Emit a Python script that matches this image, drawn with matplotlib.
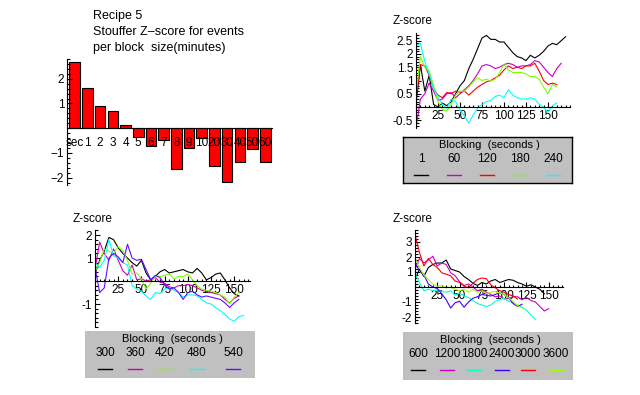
import matplotlib.pyplot as plt
from matplotlib.ticker import FixedLocator, MultipleLocator

plt.rcParams['font.family'] = ['Liberation Sans', 'DejaVu Sans']
plt.rcParams['font.size'] = 8.5

# bar chart: Stouffer Z per block size
block_labels = ['sec', '1', '2', '3', '4', '5', '6', '7', '8', '9', '10',
                '20', '30', '40', '50', '60']
block_z = [2.68, 1.62, 0.88, 0.68, 0.12, -0.36, -0.72, -0.47, -1.66, -0.82,
           -0.39, -1.53, -2.19, -1.38, -0.85, -1.38]

# cumulative Z-score curves, sampled every 5 seconds of block index
step = 5

tr_labels = ['1', '60', '120', '180', '240']
tr_colors = ['black', '#c800c8', 'red', '#80ff00', 'cyan']
tr_z = [
    [0.1, 1.6, 0.6, 1.2, 0.1, 0.0, 0.15, 0.05, 0.2, 0.5, 0.8, 1.0, 1.45, 1.8,
     2.2, 2.6, 2.7, 2.55, 2.55, 2.45, 2.45, 2.25, 2.05, 1.9, 1.85, 1.75, 1.95,
     1.85, 1.95, 2.1, 2.3, 2.4, 2.35, 2.5, 2.65],
    [-0.8, 0.3, 0.5, 0.9, 0.6, 0.25, 0.3, 0.5, 0.55, 0.35, 0.5, 0.65, 0.8, 1.0,
     1.25, 1.55, 1.6, 1.55, 1.45, 1.5, 1.6, 1.65, 1.6, 1.5, 1.55, 1.55, 1.6,
     1.75, 1.7, 1.5, 1.3, 1.15, 1.45, 1.65],
    [0.3, 1.6, 1.55, 1.2, 0.7, 0.45, 0.35, 0.55, 0.5, 0.6, 0.55, 0.6, 0.45, 0.6,
     0.75, 0.85, 0.95, 1.0, 1.1, 1.2, 1.4, 1.55, 1.45, 1.5, 1.45, 1.55, 1.55,
     1.65, 1.35, 1.0, 0.85, 0.9, 0.85],
    [0.5, 1.9, 1.5, 1.35, 0.8, 0.2, -0.1, -0.15, 0.1, 0.45, 0.6, 0.6, 0.75,
     0.95, 1.1, 1.0, 1.05, 0.98, 1.05, 1.3, 1.6, 1.4, 1.3, 1.3, 1.3, 1.25, 1.15,
     1.15, 1.05, 0.75, 0.5, 0.85, 0.75],
    [2.3, 2.4, 1.7, 1.25, 0.7, 0.4, 0.1, -0.05, 0.3, 0.2, -0.1, -0.35, -0.6,
     -0.3, -0.05, 0.1, 0.2, 0.25, 0.4, 0.45, 0.35, 0.65, 0.45, 0.35, 0.3, 0.3,
     0.35, 0.3, 0.1, 0.0, -0.2, 0.05, 0.15],
]

bl_labels = ['300', '360', '420', '480', '540']
bl_colors = ['black', '#d000b0', '#80ff00', 'cyan', '#6010ff']
bl_z = [
    [0.3, 0.9, 1.3, 1.9, 1.8, 1.45, 1.2, 1.0, 0.8, 0.65, 0.9, 0.35, 0.05, 0.2,
     0.4, 0.5, 0.35, 0.4, 0.45, 0.5, 0.4, 0.35, 0.55, 0.35, 0.05, 0.15, 0.3,
     0.35, 0.05, -0.3, -0.55, -0.65],
    [0.5, 1.7, 1.2, 0.9, 1.4, 0.9, 0.45, 0.25, 0.7, 0.05, 0.1, 0.0, 0.05, 0.15,
     -0.05, -0.1, -0.25, -0.3, -0.2, -0.2, -0.15, -0.2, -0.3, -0.4, -0.45,
     -0.5, -0.55, -0.6, -0.8, -0.95, -0.75, -0.65],
    [0.4, 0.8, 1.4, 1.3, 1.2, 1.5, 1.3, 0.9, 0.3, 0.35, 0.1, -0.35, -0.1, 0.2,
     0.2, 0.25, 0.3, 0.1, 0.2, 0.2, 0.3, 0.05, -0.2, -0.35, -0.4, -0.45, -0.5,
     -0.6, -0.7, -1.0, -0.7, -0.5],
    [0.8, 0.6, 0.9, 1.8, 1.1, 1.0, 0.8, 0.7, -0.2, -0.35, -0.45, -0.65, -0.8,
     -0.5, -0.55, -0.35, -0.3, -0.4, -0.5, -0.7, -0.6, -0.6, -0.65, -0.8,
     -0.95, -1.0, -1.15, -1.3, -1.45, -1.65, -1.75, -1.55, -1.5],
    [0.6, -0.5, -0.3, 1.0, 1.2, 1.05, 0.8, 1.6, 1.0, 0.9, 0.95, 0.5, 0.05,
     0.25, 0.15, -0.15, -0.35, -0.3, -0.5, -0.8, -0.5, -0.45, -0.6, -0.7,
     -0.65, -0.7, -0.75, -0.8, -0.95, -1.15, -0.95, -0.8],
]

br_labels = ['600', '1200', '1800', '2400', '3000', '3600']
br_colors = ['black', '#c800c8', '#00ffd0', '#4000ff', 'red', '#a0ff00']
br_z = [
    [0.5, 1.2, 0.7, 1.3, 1.5, 1.6, 1.6, 1.8, 1.2, 1.1, 1.0, 0.7, 0.5, 0.25,
     0.1, 0.3, 0.2, 0.4, 0.5, 0.3, 0.4, 0.5, 0.45, 0.3, 0.2, 0.05, 0.15, 0.0,
     -0.15, -0.45],
    [1.2, 1.9, 1.6, 1.8, 2.05, 1.4, 1.6, 1.5, 0.95, 0.75, 0.35, 0.1, 0.2, 0.0,
     -0.25, -0.15, -0.35, -0.5, -0.65, -0.6, -0.8, -0.75, -0.65, -0.65, -0.85,
     -0.7, -0.9, -1.0, -1.3, -1.6, -1.45],
    [0.9, 0.3, -0.25, -0.15, -0.25, -0.2, -0.3, -0.35, -0.25, -0.55, -0.4,
     -0.6, -0.7, -0.9, -1.1, -1.2, -1.3, -1.2, -0.95, -0.85, -0.75, -0.95,
     -1.05, -1.2, -1.35, -1.55, -1.85, -2.15],
    [1.6, 1.1, 0.8, 0.2, 0.0, -0.1, -0.45, -0.85, -1.4, -1.05, -0.95, -1.35,
     -1.0, -0.75, -0.65, -0.5, -0.55, -0.6, -0.5, -0.4, -0.5, -0.7, -1.1,
     -1.3, -1.15],
    [3.5, 2.3, 1.4, 1.9, 1.5, 1.3, 0.95, 0.85, 0.75, 0.4, 0.3, 0.05, -0.05,
     0.25, 0.5, 0.6, 0.55, 0.15, -0.05, -0.25, -0.35, -0.5, -0.6, -0.8],
    [1.9, 1.3, 0.8, 0.5, 0.2, 0.05, 0.1, -0.05, 0.0, -0.15, -0.25, -0.15,
     -0.35, -0.15, -0.35, -0.25, -0.45, -0.35, -0.3, -0.4, -0.5, -0.7, -0.95,
     -1.25, -1.4],
]

W, H = 640, 395
fig = plt.figure(figsize=(W / 100, H / 100), dpi=100)


def box(x0, x1, y0, y1):
    # axes placed by pixel box (left, right, top, bottom)
    return fig.add_axes([x0 / W, 1 - y1 / H, (x1 - x0) / W, (y1 - y0) / H])


def style(ax):
    for s in ['top', 'right']:
        ax.spines[s].set_visible(False)
    ax.spines['bottom'].set_position(('data', 0))
    ax.patch.set_alpha(0)
    ax.tick_params(which='both', direction='in', width=0.8, colors='black')
    ax.tick_params(which='major', length=3.5, pad=2)
    ax.tick_params(which='minor', length=1.8)


def line_panel(ax, curves, colors, xmax, ylo, yhi, yticks, ylabels):
    for z, c in zip(curves, colors):
        t = [i * step for i in range(len(z))]
        ax.plot(t, z, color=c, lw=0.8)
    style(ax)
    ax.spines['left'].set_position(('data', 0))
    ax.set_xlim(0, xmax)
    ax.set_ylim(ylo, yhi)
    ax.xaxis.set_major_locator(FixedLocator([25, 50, 75, 100, 125, 150]))
    ax.xaxis.set_minor_locator(MultipleLocator(5))
    ax.yaxis.set_major_locator(FixedLocator(yticks))
    ax.set_yticklabels(ylabels)


def legend_panel(x0, x1, y0, y1, labels, colors, xs, border):
    ax = box(x0, x1, y0, y1)
    ax.set_xlim(x0, x1)
    ax.set_ylim(y1, y0)
    ax.set_facecolor('#c0c0c0')
    ax.set_xticks([])
    ax.set_yticks([])
    for s in ax.spines.values():
        s.set_visible(border)
        s.set_linewidth(1)
    ax.text((x0 + x1) / 2 + 2, y0 + 8, 'Blocking  (seconds )', ha='center',
            va='center', fontsize=8)
    for lab, c, x in zip(labels, colors, xs):
        ax.text(x, y0 + 22, lab, ha='center', va='center')
        ax.plot([x - 7, x + 7], [y0 + 38, y0 + 38], color=c, lw=1)


# bar chart
fig.text(93 / W, 1 - 16 / H, 'Recipe 5', va='center', fontsize=9)
fig.text(93 / W, 1 - 32 / H, 'Stouffer Z\u2013score for events', va='center', fontsize=9)
fig.text(93 / W, 1 - 48 / H, 'per block  size(minutes)', va='center', fontsize=9)

ax = box(67, 272, 59, 185)
pos = list(range(len(block_z)))
ax.bar(pos, block_z, width=0.83, color='red', edgecolor='black', lw=0.8)
style(ax)
ax.set_xlim(-0.61, len(block_z) - 0.47)
ax.set_ylim(-2.3, 2.8)
ax.set_xticks(pos)
ax.set_xticklabels(block_labels)
ax.tick_params(axis='x', length=0, pad=6)
ax.yaxis.set_major_locator(FixedLocator([-2, -1, 1, 2]))
ax.yaxis.set_minor_locator(MultipleLocator(0.2))

# top right
ax = box(416, 570, 33, 128)
line_panel(ax, tr_z, tr_colors, 175, -0.79, 2.79,
           [-0.5, 0.5, 1, 1.5, 2, 2.5], ['-0.5', '0.5', '1', '1.5', '2', '2.5'])
ax.yaxis.set_minor_locator(MultipleLocator(0.1))
fig.text(393 / W, 1 - 21 / H, 'Z-score', va='center')
legend_panel(403, 572, 137, 183, tr_labels, tr_colors,
             [421, 454, 487, 520, 553], True)

# bottom left
ax = box(95, 250, 230, 327)
line_panel(ax, bl_z, bl_colors, 167, -2.0, 2.22, [-1, 1, 2], ['-1', '1', '2'])
ax.yaxis.set_minor_locator(MultipleLocator(0.2))
fig.text(73 / W, 1 - 219 / H, 'Z-score', va='center')
legend_panel(85, 255, 331, 378, bl_labels, bl_colors,
             [105, 135, 165, 197, 233], False)

# bottom right
ax = box(415, 563, 230, 323)
line_panel(ax, br_z, br_colors, 166, -2.4, 3.8, [-2, -1, 1, 2, 3],
           ['-2', '-1', '1', '2', '3'])
ax.yaxis.set_minor_locator(MultipleLocator(0.2))
fig.text(393 / W, 1 - 219 / H, 'Z-score', va='center')
legend_panel(403, 573, 332, 380, br_labels, br_colors,
             [418, 447, 474, 502, 528, 556], False)

fig.savefig('out.png', dpi=100)
